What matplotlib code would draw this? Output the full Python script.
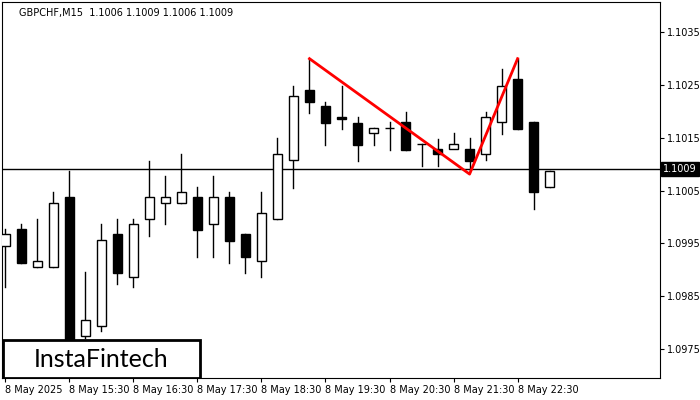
import matplotlib.pyplot as plt
from matplotlib.patches import Rectangle

opens = [1.09946, 1.09978, 1.09906, 1.09906, 1.10038, 1.09775, 1.09795, 1.09967, 1.09886, 1.09997,
         1.10027, 1.10027, 1.10038, 1.09987, 1.10038, 1.09967, 1.09916, 1.09997, 1.10108, 1.10239,
         1.10209, 1.10188, 1.10177, 1.10158, 1.10168, 1.10179, 1.10138, 1.10128, 1.10128, 1.10128,
         1.10119, 1.10179, 1.1026, 1.10179, 1.10057]
closes = [1.09967, 1.09914, 1.09916, 1.10027, 1.09767, 1.09805, 1.09957, 1.09895, 1.09987, 1.10038,
          1.10038, 1.10047, 1.09976, 1.10038, 1.09955, 1.09925, 1.10008, 1.10119, 1.10228, 1.10217,
          1.10177, 1.10186, 1.10136, 1.10168, 1.10168, 1.10126, 1.10138, 1.10119, 1.10138, 1.10106,
          1.10188, 1.10248, 1.10166, 1.10047, 1.10087]
highs = [1.09978, 1.09987, 1.09997, 1.10047, 1.10087, 1.09897, 1.09987, 1.09997, 1.09997, 1.10106,
         1.10077, 1.10119, 1.10057, 1.10077, 1.10047, 1.09967, 1.10047, 1.10149, 1.10248, 1.10299,
         1.10218, 1.10248, 1.10188, 1.10168, 1.10179, 1.10198, 1.10138, 1.10147, 1.10158, 1.10149,
         1.10198, 1.10279, 1.10299, 1.10179, 1.10087]
lows = [1.09867, 1.09914, 1.09906, 1.09906, 1.09758, 1.09771, 1.09784, 1.09874, 1.09867, 1.09965,
        1.09987, 1.10027, 1.09925, 1.09925, 1.09914, 1.09895, 1.09886, 1.09997, 1.10055, 1.10196,
        1.10136, 1.10166, 1.10106, 1.10136, 1.10126, 1.10126, 1.10096, 1.10096, 1.10136, 1.10087,
        1.10108, 1.10156, 1.10166, 1.10015, 1.10057]

pattern_x = [19, 29, 32]
pattern_y = [1.10299, 1.10081, 1.10299]
last_price = 1.1009
yticks = [1.0975, 1.0985, 1.0995, 1.1005, 1.1015, 1.1025, 1.1035]
xtick_pos = [0, 4, 8, 12, 16, 20, 24, 28, 32]
xtick_labels = ["8 May 2025", "8 May 15:30", "8 May 16:30", "8 May 17:30", "8 May 18:30",
                "8 May 19:30", "8 May 20:30", "8 May 21:30", "8 May 22:30"]

fig = plt.figure(figsize=(7, 4), dpi=100)
ax = fig.add_axes([0.003, 0.055, 0.94, 0.94])

w = 0.6
for i, (o, c, h, l) in enumerate(zip(opens, closes, highs, lows)):
    ax.plot([i, i], [l, h], color="black", lw=1, zorder=2)
    bottom, top = min(o, c), max(o, c)
    face = "white" if c >= o else "black"
    ax.add_patch(Rectangle((i - w / 2, bottom), w, max(top - bottom, 0.000005),
                           facecolor=face, edgecolor="black", lw=1, zorder=3))

ax.axhline(last_price, color="black", lw=1, zorder=1)
ax.plot(pattern_x, pattern_y, color="red", lw=2, zorder=4)

ax.set_xlim(-0.2, 40.9)
ax.set_ylim(1.09696, 1.10406)
ax.yaxis.tick_right()
ax.set_yticks(yticks)
ax.set_yticklabels([f"{v:.4f}" for v in yticks], fontsize=7)
ax.set_xticks(xtick_pos)
ax.set_xticklabels(xtick_labels, fontsize=7)
ax.tick_params(length=3, pad=2)
for lab in ax.get_xticklabels():
    lab.set_horizontalalignment("left")
    lab.set_x(0)

ax.text(1.005, last_price, f"{last_price:.4f}", transform=ax.get_yaxis_transform(),
        fontsize=7, color="white", va="center", ha="left",
        bbox=dict(facecolor="black", edgecolor="black", pad=1.5))

ax.text(0.025, 0.985, "GBPCHF,M15  1.1006 1.1009 1.1006 1.1009", transform=ax.transAxes,
        fontsize=7, va="top", ha="left")

logo = Rectangle((0.001, 0.0), 0.3, 0.1, transform=ax.transAxes,
                 facecolor="white", edgecolor="black", lw=2, zorder=5)
ax.add_patch(logo)
ax.text(0.151, 0.05, "InstaFintech", transform=ax.transAxes, fontsize=18,
        ha="center", va="center", zorder=6, family="Lato")

fig.savefig("out.png", dpi=100)
